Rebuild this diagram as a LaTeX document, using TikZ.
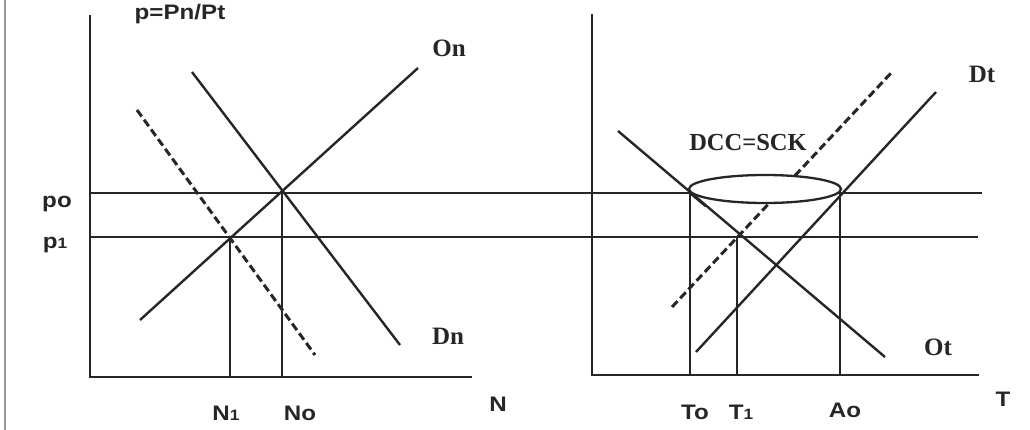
\documentclass[tikz,border=0pt]{standalone}
\usepackage{fontspec}
\usetikzlibrary{shapes.geometric,calc}
\setmainfont{Liberation Serif}
\setsansfont{Liberation Sans}
\begin{document}
\begin{tikzpicture}[x=1pt,y=-1pt,
  curve/.style={line width=2.4pt, draw=black!85},
  axisline/.style={line width=2.4pt, draw=black!85},
  guide/.style={line width=2.3pt, draw=black!85},
  shifted/.style={line width=3pt, draw=black!85, dash pattern=on 8pt off 4pt},
  axlabel/.style={font=\sffamily\bfseries\fontsize{21}{21}\selectfont, inner sep=0pt, xscale=1.15, text=black!85},
  curvelabel/.style={font=\rmfamily\bfseries\fontsize{25}{25}\selectfont, inner sep=0pt, text=black!85},
]
\useasboundingbox (0,0) rectangle (1030,430);
\newcommand{\sub}[1]{{\fontsize{15}{15}\selectfont #1}}
% frame line at left
\draw[line width=1.5pt, black!40] (5,0) -- (5,430);

% ---------- left panel coordinates ----------
\coordinate (LO) at (90,377);
\coordinate (LYtop) at (90,15);
\coordinate (LXend) at (472,377);
\coordinate (P0a) at (90,193);
\coordinate (P0b) at (982,193);
\coordinate (P1a) at (90,237);
\coordinate (P1b) at (978,237);
\coordinate (E0) at (282,193);
\coordinate (E1) at (230,237);
\coordinate (N0b) at (282,377);
\coordinate (N1b) at (230,377);
\coordinate (DnA) at (192,72);
\coordinate (DnB) at (400,345);
\coordinate (OnA) at (140,320);
\coordinate (OnB) at (418,68);
\coordinate (DdA) at (137,110);
\coordinate (DdB) at (315,355);

% ---------- right panel coordinates ----------
\coordinate (RO) at (592,375);
\coordinate (RYtop) at (592,14);
\coordinate (RXend) at (979,375);
\coordinate (F0) at (690,193);
\coordinate (F1) at (737,237);
\coordinate (F2) at (840,193);
\coordinate (T0b) at (690,375);
\coordinate (T1b) at (737,375);
\coordinate (A0b) at (840,375);
\coordinate (OtA) at (618,131);
\coordinate (OtB) at (885,357);
\coordinate (DtA) at (696,352);
\coordinate (DtB) at (936,92);
\coordinate (DsA) at (672,307);
\coordinate (DsB) at (892,72);

% axes
\draw[axisline] (LYtop) -- (LO) -- (LXend);
\draw[axisline] (RYtop) -- (RO) -- (RXend);
% price lines
\draw[guide] (P0a) -- (P0b);
\draw[guide] (P1a) -- (P1b);
% left curves
\draw[curve] (DnA) -- (DnB);
\draw[curve] (OnA) -- (OnB);
\draw[shifted] (DdA) -- (DdB);
\draw[guide] (E1) -- (N1b);
\draw[guide] (E0) -- (N0b);
% right curves
\draw[curve] (OtA) -- (OtB);
\draw[curve] (DtA) -- (DtB);
\draw[shifted] (DsA) -- (DsB);
\draw[guide] (F0) -- (T0b);
\draw[guide] (F1) -- (T1b);
\draw[guide] (F2) -- (A0b);
% ellipse DCC=SCK
\node[ellipse, draw=black!85, fill=white, line width=2.3pt, minimum width=152pt, minimum height=28pt, inner sep=0pt] (ell) at (765,189) {};
\draw[curve] (F0) -- ($(F0)!0.08!(OtB)$);

% labels
\node[axlabel] (ptitle) at (180,14) {p=Pn/Pt};
\node[axlabel, anchor=base] (lp0) at (57,208) {po};
\node[axlabel, anchor=base] (lp1) at (55,249) {p\sub{1}};
\node[axlabel, anchor=base] (lN1) at (226,420) {N\sub{1}};
\node[axlabel, anchor=base] (lN0) at (300,420) {No};
\node[axlabel, anchor=base] (lN) at (498,411) {N};
\node[axlabel, anchor=base] (lT0) at (695,419) {To};
\node[axlabel, anchor=base] (lT1) at (741,419) {T\sub{1}};
\node[axlabel, anchor=base] (lA0) at (845,417) {Ao};
\node[axlabel, anchor=base] (lT) at (1003,406) {T};
\node[curvelabel] (lOn) at (449,48) {On};
\node[curvelabel] (lDn) at (448,336) {Dn};
\node[curvelabel] (lDt) at (982,74) {Dt};
\node[curvelabel] (lOt) at (938,347) {Ot};
\node[font=\rmfamily\bfseries\fontsize{24.5}{24.5}\selectfont, inner sep=0pt, text=black!85] (ldcc) at (748,143) {DCC=SCK};
\end{tikzpicture}
\end{document}
